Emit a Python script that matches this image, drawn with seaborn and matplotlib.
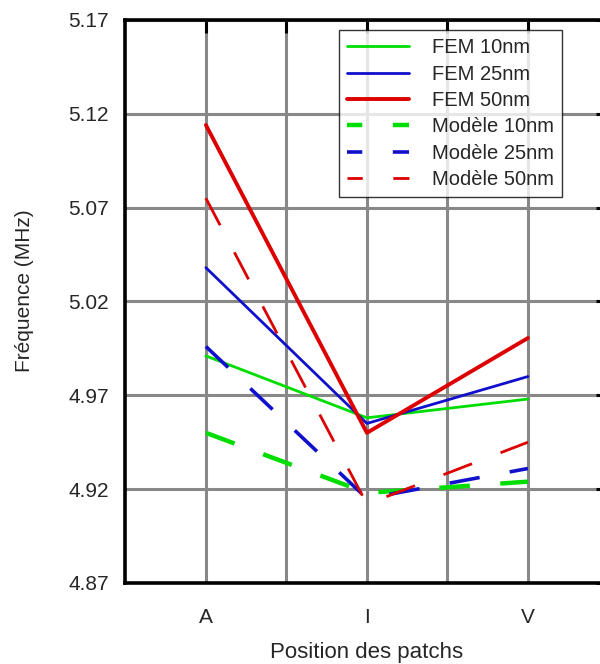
import numpy as np
import pandas as pd
import matplotlib
matplotlib.use("Agg")
import matplotlib.pyplot as plt
import seaborn as sns

# positions des patchs
positions = ["A", "I", "V"]

# frequences (MHz)
fem_10 = [4.991, 4.958, 4.968]
fem_25 = [5.038, 4.955, 4.980]
fem_50 = [5.114, 4.950, 5.0005]
mod_10 = [4.950, 4.918, 4.924]
mod_25 = [4.996, 4.915, 4.931]
mod_50 = [5.075, 4.912, 4.945]

labels = ["FEM 10nm", "FEM 25nm", "FEM 50nm",
          "Modèle 10nm", "Modèle 25nm", "Modèle 50nm"]

sns.set_style("white")
plt.rcParams["font.family"] = ["Liberation Sans", "DejaVu Sans"]
plt.rcParams["lines.scale_dashes"] = False

green = "#00dd00"
blue = "#1010cc"
red = "#dd0000"

series = [
    (fem_10, green, 2.0, "-"),
    (fem_25, blue, 2.0, "-"),
    (fem_50, red, 2.8, "-"),
    (mod_10, green, 3.2, (0, (22, 22))),
    (mod_25, blue, 2.6, (0, (22, 22))),
    (mod_50, red, 2.0, (0, (22, 22))),
]

fig = plt.figure(figsize=(6.0, 6.64), dpi=100)
ax = fig.add_axes([0.209, 0.122, 0.805, 0.848])

x = np.arange(len(positions))
for (vals, col, lw, ls), lab in zip(series, labels):
    df = pd.DataFrame({"pos": x, "freq": vals})
    sns.lineplot(data=df, x="pos", y="freq", ax=ax, color=col,
                 linewidth=lw, linestyle=ls, label=lab)

ax.set_xlim(-0.5, 2.5)
ax.set_ylim(4.87, 5.17)
ax.set_xticks(x)
ax.set_xticklabels(positions)
ax.set_xticks([0.5, 1.5], minor=True)
yt = np.arange(4.87, 5.171, 0.05)
ax.set_yticks(yt)
ax.set_yticklabels([f"{v:.2f}" for v in yt])

ax.grid(True, which="both", axis="x", color="#888888", linewidth=2.2)
ax.grid(True, which="major", axis="y", color="#888888", linewidth=2.2)
ax.set_axisbelow(True)

ax.tick_params(which="both", direction="in", length=9, width=2.2,
               color="black", top=True, right=True, labelsize=15)
ax.tick_params(axis="y", pad=12)
ax.tick_params(axis="x", pad=18)
for s in ax.spines.values():
    s.set_linewidth(2.6)
    s.set_color("black")

ax.set_xlabel("Position des patchs", fontsize=16)
ax.set_ylabel("Fréquence (MHz)", fontsize=15)
ax.xaxis.set_label_coords(0.5, -0.105)
ax.yaxis.set_label_coords(-0.19, 0.52)

leg = ax.legend(loc="upper left", bbox_to_anchor=(0.442, 0.982),
                fontsize=14.5, frameon=True, fancybox=False,
                handlelength=3.1, handletextpad=1.1, borderpad=0.4,
                labelspacing=0.37, borderaxespad=0)
leg.get_frame().set_edgecolor("black")
leg.get_frame().set_linewidth(1.0)
for ln in leg.get_lines()[3:]:
    ln.set_linestyle((11, (22, 22)))

fig.savefig("out.png", dpi=100)
